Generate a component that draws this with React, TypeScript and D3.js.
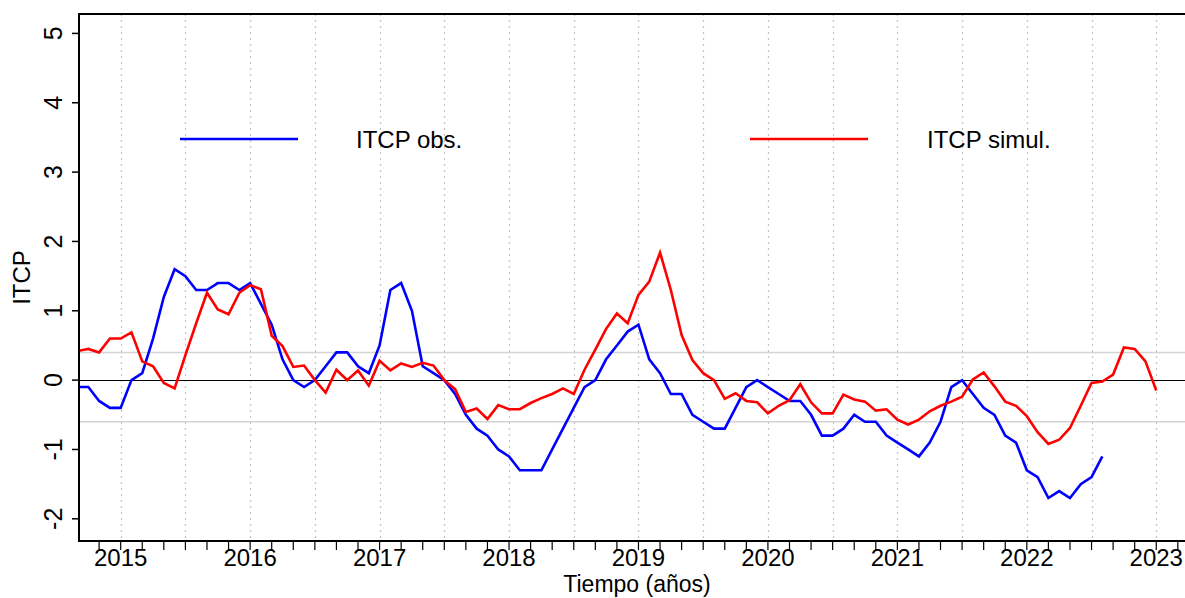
import { useEffect, useRef } from 'react';
import * as d3 from 'd3';

// monthly series, first value = Sep 2014
const START_YEAR = 2014;
const START_MONTH = 9;

const itcpObs = [
  -0.1, -0.1, -0.3, -0.4,
  -0.4, 0.0, 0.1, 0.6, 1.2, 1.6, 1.5, 1.3, 1.3, 1.4, 1.4, 1.3,
  1.4, 1.1, 0.8, 0.3, 0.0, -0.1, 0.0, 0.2, 0.4, 0.4, 0.2, 0.1,
  0.5, 1.3, 1.4, 1.0, 0.2, 0.1, 0.0, -0.2, -0.5, -0.7, -0.8, -1.0,
  -1.1, -1.3, -1.3, -1.3, -1.0, -0.7, -0.4, -0.1, 0.0, 0.3, 0.5, 0.7,
  0.8, 0.3, 0.1, -0.2, -0.2, -0.5, -0.6, -0.7, -0.7, -0.4, -0.1, 0.0,
  -0.1, -0.2, -0.3, -0.3, -0.5, -0.8, -0.8, -0.7, -0.5, -0.6, -0.6, -0.8,
  -0.9, -1.0, -1.1, -0.9, -0.6, -0.1, 0.0, -0.2, -0.4, -0.5, -0.8, -0.9,
  -1.3, -1.4, -1.7, -1.6, -1.7, -1.5, -1.4, -1.1,
];

const itcpSimul = [
  0.42, 0.45, 0.40, 0.60,
  0.60, 0.69, 0.27, 0.20, -0.04, -0.12, 0.36, 0.82, 1.26, 1.02, 0.95, 1.26,
  1.37, 1.31, 0.64, 0.49, 0.19, 0.21, 0.0, -0.18, 0.15, 0.0, 0.14, -0.08,
  0.28, 0.14, 0.24, 0.19, 0.25, 0.21, 0.0, -0.13, -0.46, -0.41, -0.56, -0.36,
  -0.42, -0.42, -0.33, -0.26, -0.2, -0.12, -0.2, 0.15, 0.44, 0.74, 0.96, 0.82,
  1.23, 1.42, 1.84, 1.30, 0.65, 0.29, 0.10, 0.0, -0.27, -0.19, -0.30, -0.32,
  -0.48, -0.37, -0.29, -0.06, -0.32, -0.48, -0.48, -0.21, -0.28, -0.31, -0.44, -0.42,
  -0.57, -0.64, -0.57, -0.45, -0.37, -0.31, -0.24, 0.01, 0.11, -0.09, -0.31, -0.37,
  -0.52, -0.75, -0.92, -0.86, -0.69, -0.37, -0.04, -0.02, 0.08, 0.47, 0.45, 0.27,
  -0.15,
];

const yearTicks = [2015, 2016, 2017, 2018, 2019, 2020, 2021, 2022, 2023];
const yTicks = [-2, -1, 0, 1, 2, 3, 4, 5];
const bandLines = [0.4, -0.6];

const series = [
  { label: 'ITCP obs.', values: itcpObs, color: '#0000ff' },
  { label: 'ITCP simul.', values: itcpSimul, color: '#ff0000' },
];

const W = 1185;
const H = 598;
const FONT = '"Liberation Sans", Arial, sans-serif';

export default function App() {
  const svgRef = useRef<SVGSVGElement>(null);

  useEffect(() => {
    if (!svgRef.current) return;
    const svg = d3.select(svgRef.current);
    svg.selectAll('*').remove();

    const left = 79, right = 1185, top = 14, bottom = 541;

    const x = d3.scaleLinear().domain([2014.678, 2023.222]).range([left, right]);
    const y = d3.scaleLinear().domain([-2.32, 5.28]).range([bottom, top]);

    const tOf = (i: number) => START_YEAR + (START_MONTH - 1 + i) / 12;

    svg.append('defs').append('clipPath').attr('id', 'plotclip')
      .append('rect')
      .attr('x', left).attr('y', top)
      .attr('width', right - left).attr('height', bottom - top);

    // dotted half-year grid
    const halfYears = d3.range(2015, 2023.01, 0.5);
    svg.append('g').selectAll('line').data(halfYears).join('line')
      .attr('x1', d => Math.round(x(d)) + 0.5).attr('x2', d => Math.round(x(d)) + 0.5)
      .attr('y1', top).attr('y2', bottom)
      .attr('stroke', '#c4c4c4')
      .attr('stroke-width', 1.2)
      .attr('stroke-dasharray', '2,4');

    // gray band lines + zero line
    svg.append('g').selectAll('line').data(bandLines).join('line')
      .attr('x1', left).attr('x2', right)
      .attr('y1', d => y(d)).attr('y2', d => y(d))
      .attr('stroke', '#d4d4d4')
      .attr('stroke-width', 1.5);

    svg.append('line')
      .attr('x1', left).attr('x2', right)
      .attr('y1', Math.round(y(0)) + 0.5).attr('y2', Math.round(y(0)) + 0.5)
      .attr('stroke', '#000')
      .attr('stroke-width', 1);

    // lines
    const line = d3.line<number>()
      .x((d, i) => x(tOf(i)))
      .y(d => y(d));

    const lg = svg.append('g').attr('clip-path', 'url(#plotclip)');
    series.forEach(s => {
      lg.append('path')
        .datum(s.values)
        .attr('fill', 'none')
        .attr('stroke', s.color)
        .attr('stroke-width', 2.6)
        .attr('stroke-linejoin', 'miter')
        .attr('d', line);
    });

    // frame: top border, left axis, bottom axis
    svg.append('line')
      .attr('x1', left).attr('x2', right)
      .attr('y1', top).attr('y2', top)
      .attr('stroke', '#000').attr('stroke-width', 2);
    svg.append('line')
      .attr('x1', left).attr('x2', left)
      .attr('y1', top - 1).attr('y2', bottom + 1)
      .attr('stroke', '#000').attr('stroke-width', 2);
    svg.append('line')
      .attr('x1', left - 1).attr('x2', right)
      .attr('y1', bottom).attr('y2', bottom)
      .attr('stroke', '#000').attr('stroke-width', 2);

    // x ticks every two months
    const xTickVals = d3.range(-1, 50).map(i => 2015 + i / 6).filter(t => x(t) >= left && x(t) <= right);
    svg.append('g').selectAll('line').data(xTickVals).join('line')
      .attr('x1', d => x(d)).attr('x2', d => x(d))
      .attr('y1', bottom).attr('y2', bottom + 9)
      .attr('stroke', '#000').attr('stroke-width', 1.2);

    svg.append('g').selectAll('text').data(yearTicks).join('text')
      .attr('x', d => x(d))
      .attr('y', 566)
      .attr('text-anchor', 'middle')
      .attr('font-family', FONT)
      .attr('font-size', 24)
      .attr('fill', '#000')
      .text(d => String(d));

    // y ticks
    svg.append('g').selectAll('line').data(yTicks).join('line')
      .attr('x1', left - 7).attr('x2', left)
      .attr('y1', d => y(d)).attr('y2', d => y(d))
      .attr('stroke', '#000').attr('stroke-width', 1.5);

    svg.append('g').selectAll('text').data(yTicks).join('text')
      .attr('transform', d => `translate(62,${y(d)}) rotate(-90)`)
      .attr('text-anchor', 'middle')
      .attr('font-family', FONT)
      .attr('font-size', 25)
      .attr('fill', '#000')
      .text(d => String(d));

    // axis titles
    svg.append('text')
      .attr('transform', `translate(30,${(top + bottom) / 2}) rotate(-90)`)
      .attr('text-anchor', 'middle')
      .attr('font-family', FONT)
      .attr('font-size', 24)
      .text('ITCP');

    svg.append('text')
      .attr('x', 637)
      .attr('y', 592)
      .attr('text-anchor', 'middle')
      .attr('font-family', FONT)
      .attr('font-size', 23)
      .text('Tiempo (años)');

    // legend
    const legendPos = [
      { x1: 180, x2: 298, tx: 356 },
      { x1: 750, x2: 868, tx: 927 },
    ];
    series.forEach((s, i) => {
      const p = legendPos[i];
      svg.append('line')
        .attr('x1', p.x1).attr('x2', p.x2)
        .attr('y1', 139).attr('y2', 139)
        .attr('stroke', s.color)
        .attr('stroke-width', 2.6);
      svg.append('text')
        .attr('x', p.tx)
        .attr('y', 148)
        .attr('font-family', FONT)
        .attr('font-size', 24)
        .attr('fill', '#000')
        .text(s.label);
    });
  }, []);

  return (
    <div style={{ position: 'fixed', left: 0, top: 0, width: W, height: H, background: '#fff' }}>
      <svg ref={svgRef} width={W} height={H} style={{ display: 'block' }}></svg>
    </div>
  );
}
